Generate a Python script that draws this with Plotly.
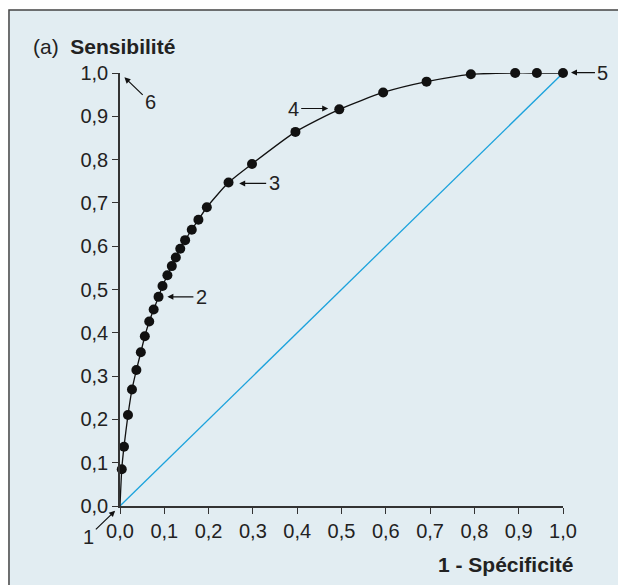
import plotly.graph_objects as go

# Data
fpr = [0.004, 0.009, 0.018, 0.027, 0.037, 0.047, 0.056, 0.066, 0.076, 0.087,
       0.096, 0.107, 0.117, 0.126, 0.136, 0.147, 0.162, 0.177, 0.196, 0.245,
       0.298, 0.396, 0.495, 0.594, 0.692, 0.792, 0.892, 0.941, 1.0]
tpr = [0.085, 0.137, 0.210, 0.269, 0.314, 0.355, 0.392, 0.426, 0.454, 0.483,
       0.508, 0.533, 0.554, 0.574, 0.594, 0.614, 0.638, 0.661, 0.690, 0.747,
       0.790, 0.864, 0.916, 0.955, 0.980, 0.997, 1.0, 1.0, 1.0]
diag_x = [0.0, 1.0]
diag_y = [0.0, 1.0]
tick_vals = [i / 10 for i in range(11)]
tick_text = ["0,0", "0,1", "0,2", "0,3", "0,4", "0,5", "0,6", "0,7", "0,8", "0,9", "1,0"]

# callouts: label, target x, target y, text offset (px)
callout_labels = ["1", "2", "3", "4", "5", "6"]
callout_x = [-0.011, 0.107, 0.269, 0.470, 1.018, 0.010]
callout_y = [-0.011, 0.483, 0.745, 0.918, 1.001, 0.990]
callout_ax = [-27, 34, 35, -35, 32, 26]
callout_ay = [26, 0, 0, 0, 0, 25]

FONT = "Liberation Sans, Arial, Helvetica, sans-serif"
TXT = "#222222"
BG = "#e2edf2"

fig = go.Figure()
fig.add_trace(go.Scatter(x=diag_x, y=diag_y, mode="lines",
                         line=dict(color="#1ba2dc", width=1.3),
                         hoverinfo="skip", cliponaxis=False))
fig.add_trace(go.Scatter(x=[0.0] + fpr, y=[0.0] + tpr, mode="lines",
                         line=dict(color="#111111", width=1.3, shape="spline", smoothing=0.6),
                         hoverinfo="skip", cliponaxis=False))
fig.add_trace(go.Scatter(x=fpr, y=tpr, mode="markers",
                         marker=dict(color="#111111", size=10),
                         cliponaxis=False))

annotations = []
for lab, x, y, ax, ay in zip(callout_labels, callout_x, callout_y, callout_ax, callout_ay):
    annotations.append(dict(x=x, y=y, xref="paper", yref="paper", text=lab,
                            showarrow=True, ax=ax, ay=ay,
                            arrowhead=2, arrowsize=1, arrowwidth=1.2,
                            arrowcolor="#111111", standoff=0, startstandoff=1,
                            font=dict(family=FONT, size=20, color=TXT)))
annotations.append(dict(x=-0.201, y=1.062, xref="paper", yref="paper",
                        xanchor="left", yanchor="middle", showarrow=False,
                        text="(a)  <b>Sensibilité</b>",
                        font=dict(family=FONT, size=21, color=TXT)))
annotations.append(dict(x=1.027, y=-0.136, xref="paper", yref="paper",
                        xanchor="right", yanchor="middle", showarrow=False,
                        text="<b>1 - Spécificité</b>",
                        font=dict(family=FONT, size=21, color=TXT)))

shapes = [dict(type="rect", xref="paper", yref="paper",
               x0=-0.2506, x1=1.25, y0=-0.3, y1=1.1455,
               fillcolor=BG, line=dict(color="#444444", width=1.5), layer="below")]

axis_common = dict(range=[0, 1], tickvals=tick_vals, ticktext=tick_text,
                   showline=True, linecolor="#333333", linewidth=1.5,
                   ticks="outside", ticklen=6, tickwidth=1.2, tickcolor="#333333",
                   showgrid=False, zeroline=False,
                   tickfont=dict(family=FONT, size=20, color=TXT))

fig.update_layout(
    width=626, height=585,
    margin=dict(l=112, r=71, t=65, b=87),
    paper_bgcolor="white", plot_bgcolor="rgba(0,0,0,0)",
    showlegend=False,
    xaxis=axis_common, yaxis=axis_common,
    annotations=annotations, shapes=shapes,
)
fig.write_html("out.html")
